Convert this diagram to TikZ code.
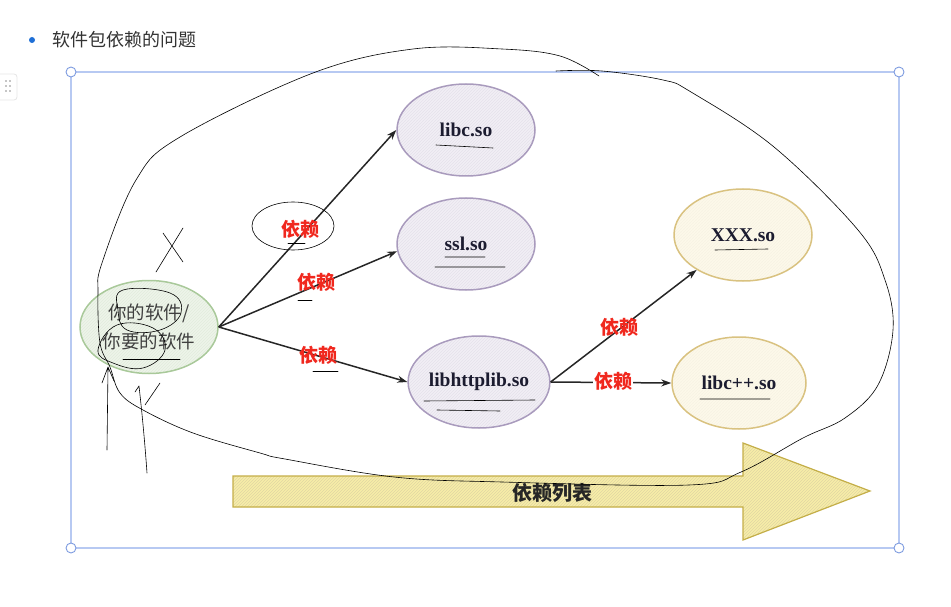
\documentclass[tikz,border=0pt]{standalone}
\usepackage{fontspec}
\setmainfont{Liberation Serif}
\newfontfamily\cjk{Noto Sans CJK SC}
\usetikzlibrary{shapes.geometric, arrows.meta, patterns}

\definecolor{selblue}{HTML}{B7C9F2}
\definecolor{handleblue}{HTML}{7E9CE0}
\definecolor{dotblue}{HTML}{1F6FD6}
\definecolor{libline}{HTML}{A99BBD}
\definecolor{libfill}{HTML}{F1EFF5}
\definecolor{youline}{HTML}{A9C99A}
\definecolor{youfill}{HTML}{EEF4EA}
\definecolor{subline}{HTML}{D9C280}
\definecolor{subfill}{HTML}{FDF9EA}
\definecolor{arrline}{HTML}{C4AE48}
\definecolor{arrfill}{HTML}{F7EDA8}
\definecolor{depred}{HTML}{F0281E}
\definecolor{libtext}{HTML}{1C1C30}

\begin{document}
\begin{tikzpicture}[x=1pt, y=-1pt,
    lib/.style={ellipse, draw=libline, line width=1.5pt, minimum width=138pt, minimum height=92pt, inner sep=0pt,
      preaction={fill=libfill}, pattern=north east lines, pattern color=libline!30,
      text=libtext, font=\fontsize{19.5}{22}\selectfont\bfseries},
    sub/.style={lib, draw=subline, preaction={fill=subfill}, pattern color=subline!22},
    link/.style={-{Stealth[length=10pt, width=7pt]}, line width=1.5pt, black!85},
    dep/.style={text=depred, font={\cjk\fontsize{19}{21}\selectfont\bfseries}, inner sep=1pt},
    pen/.style={black, line width=0.6pt, line cap=round, line join=round},
    handle/.style={draw=handleblue, fill=white, line width=0.9pt}]
    \useasboundingbox (0,0) rectangle (951,607);

    % header
    \fill[dotblue] (32,40) circle (3);
    \node[anchor=west, text=black!80, font={\cjk\fontsize{18}{20}\selectfont}] (title) at (49,40) {软件包依赖的问题};
    \draw[black!10, line width=0.8pt, rounded corners=3pt] (-3,74) rectangle (17,100);
    \foreach \y in {81,86,91} {
      \fill[black!45] (6,\y) circle (0.9);
      \fill[black!45] (10,\y) circle (0.9);
    }

    % selection frame
    \draw[selblue, line width=1.5pt] (71,72) rectangle (899,548);
    \foreach \p in {(71,72), (899,72), (71,548), (899,548)}
      \draw[handle] \p circle (5);

    % dependency list arrow
    \filldraw[draw=arrline, line width=1.2pt, preaction={fill=arrfill}, pattern=north east lines, pattern color=arrline!50]
      (233,476) -- (743,476) -- (743,443) -- (870,491) -- (743,540) -- (743,507) -- (233,507) -- cycle;
    \node[font={\cjk\fontsize{20}{22}\selectfont\bfseries}, text=black!85] (list) at (552,493) {依赖列表};

    % nodes
    \node[lib, draw=youline, preaction={fill=youfill}, pattern color=youline!35, text=black!75,
      font={\cjk\fontsize{18.5}{29}\selectfont}, align=center, minimum width=138pt, minimum height=93pt] (you) at (149,327) {你的软件/\\你要的软件};
    \node[lib] (libc) at (466,130) {libc.so};
    \node[lib] (ssl) at (466,244) {ssl.so};
    \node[lib] (http) at (479,382) {libhttplib.so};
    \node[sub] (xxx) at (743,235) {XXX.so};
    \node[sub, minimum width=134pt] (libcpp) at (739,383) {libc++.so};

    % dependencies
    \draw[link] (you.east) -- node[dep, pos=.45, yshift=9pt, xshift=2pt] (d1) {依赖} (libc.west);
    \draw[link] (you.east) -- node[dep, pos=.55, yshift=3pt] (d2) {依赖} (ssl.186);
    \draw[link] (you.east) -- node[dep, pos=.53, yshift=1pt] (d3) {依赖} (http.west);
    \draw[link] (http.east) -- node[dep, pos=.47, yshift=2pt] (d4) {依赖} (xxx.217);
    \draw[link] (http.east) -- node[dep, pos=.52, yshift=1pt, fill=white] (d5) {依赖} (libcpp.west);

    % pen marks
    \draw[pen] plot[smooth, tension=0.6] coordinates {(599,76) (560,56) (502,49) (413,49) (313,73) (180,137)
      (136,180) (102,263) (98,293) (100,343) (110,367) (120,393) (143,410) (193,433) (260,453) (285,459)
      (394,477) (502,482) (689,485) (741,472) (803,438) (845,418) (878,385) (893,330) (885,280) (858,230)
      (774,147) (691,92) (663,80) (602,71) (556,71)};
    \draw[pen] (293,226) ellipse [x radius=41, y radius=24];
    \draw[pen] (163,233) -- (183,262) (183,228) -- (156,272);
    \draw[pen] plot[smooth cycle, tension=0.7] coordinates {(123,290) (170,293) (181,313) (160,330) (127,330) (118,310)};
    \draw[pen] plot[smooth cycle, tension=0.7] coordinates {(117,325) (153,328) (165,350) (143,368) (113,363) (98,350)};
    \draw[pen] (123,359) -- (180,359);
    \draw[pen] (107,450) -- (108,368) (102,383) -- (108,367) -- (114,381);
    \draw[pen] (147,473) .. controls (144,430) and (140,395) .. (139,386) -- (135,392) (160,383) -- (145,405);

    % underlines
    \draw[pen] (436,145) -- (493,148) (445,257) -- (485,257) (435,267) -- (505,267);
    \draw[pen] (424,401) -- (535,400) (437,410) -- (500,411);
    \draw[pen] (715,250) -- (768,249) (700,399) -- (770,399);
    \draw[pen] (288,243) -- (305,243) (298,300) -- (312,300) (313,371) -- (338,371);
  \end{tikzpicture}
\end{document}
